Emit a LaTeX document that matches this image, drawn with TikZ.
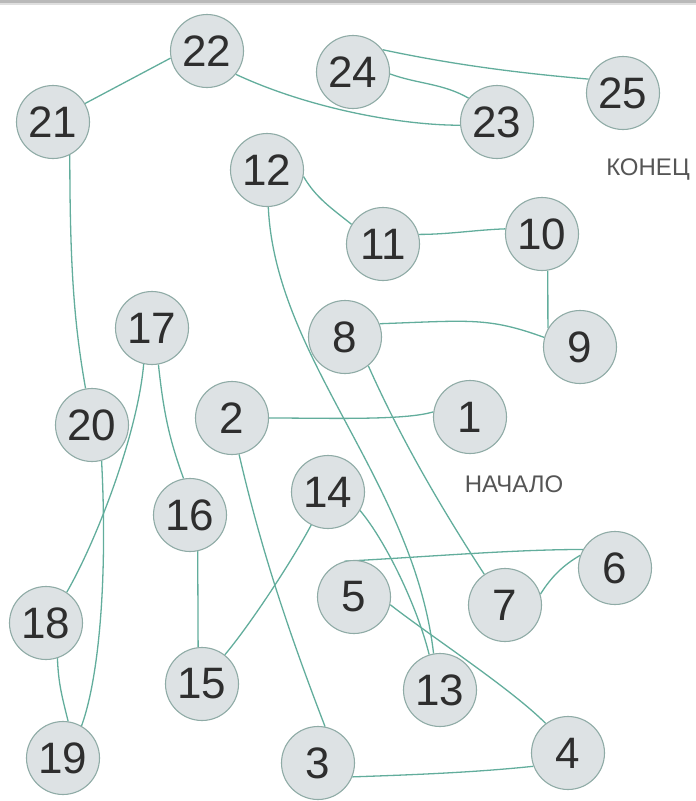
\documentclass[tikz,border=0pt]{standalone}
\usepackage{fontspec}
\setmainfont{Liberation Sans}
\usetikzlibrary{backgrounds}
\definecolor{edgec}{HTML}{62AD9C}
\definecolor{nodefill}{HTML}{DDE2E4}
\definecolor{nodeline}{HTML}{8FABA6}
\definecolor{numc}{HTML}{2E2E2E}
\definecolor{labc}{HTML}{555555}
\begin{document}
\begin{tikzpicture}[x=1pt,y=1pt,
  dot/.style={circle,draw=nodeline,fill=nodefill,line width=1.1pt,minimum size=73pt,inner sep=0pt,font=\fontsize{44}{44}\selectfont,text=numc},
  link/.style={draw=edgec,line width=1.3pt},
  lab/.style={font=\fontsize{24}{24}\selectfont,text=labc}]
\useasboundingbox (0,0) rectangle (696,-801);
\fill[gray!55] (0,0) rectangle (696,-3);
\fill[gray!25] (0,-3) rectangle (696,-5);

\node[dot] (n1) at (470,-417) {1};
\node[dot] (n2) at (232,-418) {2};
\node[dot] (n3) at (318,-763) {3};
\node[dot] (n4) at (568,-753) {4};
\node[dot] (n5) at (354,-597) {5};
\node[dot] (n6) at (615,-568) {6};
\node[dot] (n7) at (505,-605) {7};
\node[dot] (n8) at (345,-337) {8};
\node[dot] (n9) at (580,-347) {9};
\node[dot] (n10) at (542,-234) {10};
\node[dot] (n11) at (383,-244) {11};
\node[dot] (n12) at (267,-170) {12};
\node[dot] (n13) at (440,-690) {13};
\node[dot] (n14) at (328,-492) {14};
\node[dot] (n15) at (202,-684) {15};
\node[dot] (n16) at (190,-515) {16};
\node[dot] (n17) at (152,-328) {17};
\node[dot] (n18) at (46,-623) {18};
\node[dot] (n19) at (63,-758) {19};
\node[dot] (n20) at (92,-425) {20};
\node[dot] (n21) at (53,-122) {21};
\node[dot] (n22) at (207,-51) {22};
\node[dot] (n23) at (497,-122) {23};
\node[dot] (n24) at (353,-72) {24};
\node[dot] (n25) at (623,-93) {25};

\node[lab] (endlab) at (648,-170) {КОНЕЦ};
\node[lab] (startlab) at (514,-484) {НАЧАЛО};

\begin{scope}[on background layer]
\draw[link] (n1.172) .. controls +(197:30) and +(0:60) .. (n2.0);
\draw[link] (n2.-79) .. controls +(-77:100) and +(111:100) .. (n3.79);
\draw[link] (n3.-22) .. controls +(2:60) and +(186:60) .. (n4.-159);
\draw[link] (n5.-12) .. controls +(-38:50) and +(135:50) .. (n4.127);
\draw[link] (n5.105) .. controls +(3:80) and +(180:70) .. (n6.150);
\draw[link] (n6.160) .. controls +(210:20) and +(58:20) .. (n7.17);
\draw[link] (n8.-51) .. controls +(-66:80) and +(123:80) .. (n7.124);
\draw[link] (n8.21) .. controls +(2:90) and +(160:60) .. (n9.165);
\draw[link] (n10.-81) -- (n9.150);
\draw[link] (n11.15) .. controls +(0:30) and +(182:30) .. (n10.172);
\draw[link] (n12.-10) .. controls +(-60:25) and +(141:25) .. (n11.148);
\draw[link] (n12.-88) .. controls +(7,-152) and +(-20,172) .. (n13.100);
\draw[link] (n14.-30) .. controls +(-50:40) and +(104:50) .. (n13.107);
\draw[link] (n14.-117) .. controls +(-118:40) and +(50:40) .. (n15.52);
\draw[link] (n16.-78) -- (n15.96);
\draw[link] (n17.-80) .. controls +(-84:50) and +(110:40) .. (n16.100);
\draw[link] (n17.-103) .. controls +(-95:70) and +(60:60) .. (n18.56);
\draw[link] (n18.-72) .. controls +(-88:25) and +(104:25) .. (n19.82);
\draw[link] (n20.-75) .. controls +(-87:120) and +(70:50) .. (n19.60);
\draw[link] (n21.-63) .. controls +(-90:120) and +(100:60) .. (n20.100);
\draw[link] (n21.30) -- (n22.-169);
\draw[link] (n22.-39) .. controls +(-25:80) and +(180:60) .. (n23.185);
\draw[link] (n24.-3) .. controls +(-20:30) and +(150:30) .. (n23.140);
\draw[link] (n24.37) .. controls +(-12:80) and +(175:60) .. (n25.158);
\end{scope}
\end{tikzpicture}
\end{document}
